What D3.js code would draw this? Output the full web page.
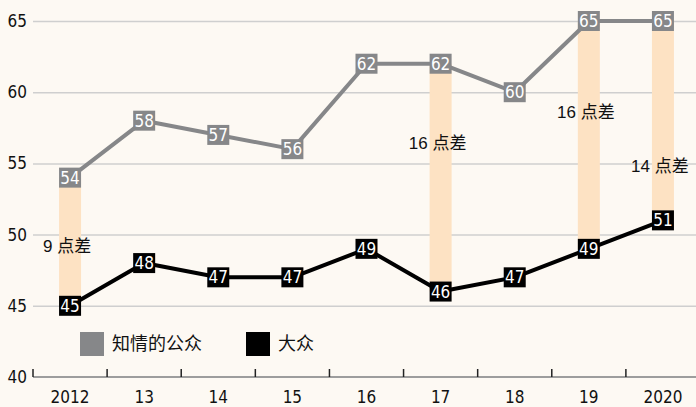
<!DOCTYPE html>
<html>
<head>
<meta charset="utf-8">
<script src="https://cdn.jsdelivr.net/npm/d3@7"></script>
<style>
  body { margin: 0; background: #fdf9f3; }
  svg { display: block; }
  .cond { font-family: "Liberation Sans Narrow", "DejaVu Sans Condensed", "Noto Sans CJK SC", sans-serif; }
  .cjk { font-family: "Liberation Sans", "Noto Sans CJK SC", sans-serif; }
</style>
</head>
<body>
<script>
const years = ['2012', '13', '14', '15', '16', '17', '18', '19', '2020'];
const informed = [54, 58, 57, 56, 62, 62, 60, 65, 65];
const general = [45, 48, 47, 47, 49, 46, 47, 49, 51];
const yTicks = [40, 45, 50, 55, 60, 65];

// gap callouts: which year, the text, and the value the text sits at
const gapYears = ['2012', '17', '19', '2020'];
const gapText = ['9 点差', '16 点差', '16 点差', '14 点差'];
const gapLabelAt = [49.2, 56.4, 58.6, 54.8];

const seriesNames = ['知情的公众', '大众'];
const seriesColors = ['#868789', '#000000'];

const width = 696;
const height = 407;
const margin = { top: 21, bottom: 30, left: 33, right: -4 };

const svg = d3.select('body').append('svg')
    .attr('width', width)
    .attr('height', height);

svg.append('rect')
    .attr('width', width)
    .attr('height', height)
    .attr('fill', '#fdf9f3');

const xscale = d3.scaleBand()
    .domain(years)
    .range([margin.left, width - margin.right]);

const yscale = d3.scaleLinear()
    .domain([40, 65])
    .range([height - margin.bottom, margin.top]);

const cx = (y) => xscale(y) + xscale.bandwidth() / 2;

// gridlines + y labels
const yaxis = d3.axisLeft(yscale)
    .tickValues(yTicks)
    .tickSize(-(width - margin.left))
    .tickPadding(6);

const g_yaxis = svg.append('g')
    .attr('class', 'y axis cond')
    .attr('transform', `translate(${margin.left},0)`)
    .call(yaxis);

g_yaxis.select('.domain').remove();
g_yaxis.selectAll('.tick line')
    .attr('stroke', (d) => d === 40 ? 'none' : '#cfcfcf')
    .attr('stroke-width', 1.5);
g_yaxis.selectAll('.tick text')
    .attr('fill', '#111')
    .attr('font-size', 17)
    .attr('font-family', null);

// x axis baseline with boundary ticks pointing up
const g_xaxis = svg.append('g').attr('class', 'x axis cond');

g_xaxis.append('line')
    .attr('x1', margin.left)
    .attr('x2', width)
    .attr('y1', yscale(40))
    .attr('y2', yscale(40))
    .attr('stroke', '#9d9d9d')
    .attr('stroke-width', 2);

g_xaxis.selectAll('.bound')
    .data(years)
    .join('line')
    .attr('class', 'bound')
    .attr('x1', (d) => xscale(d))
    .attr('x2', (d) => xscale(d))
    .attr('y1', yscale(40))
    .attr('y2', yscale(40) - 8)
    .attr('stroke', '#222')
    .attr('stroke-width', 1.5);

g_xaxis.selectAll('.xlabel')
    .data(years)
    .join('text')
    .attr('class', 'xlabel')
    .attr('x', (d) => cx(d))
    .attr('y', height - 4)
    .attr('text-anchor', 'middle')
    .attr('font-size', 17)
    .attr('fill', '#111')
    .text((d) => d);

// gap bars
const gaps = gapYears.map((y, i) => {
    const k = years.indexOf(y);
    return { year: y, top: informed[k], bottom: general[k], text: gapText[i], at: gapLabelAt[i] };
});

svg.selectAll('.gap')
    .data(gaps)
    .join('rect')
    .attr('class', 'gap')
    .attr('x', (d) => cx(d.year) - 11)
    .attr('width', 22)
    .attr('y', (d) => yscale(d.top))
    .attr('height', (d) => yscale(d.bottom) - yscale(d.top))
    .attr('fill', '#fde2c3');

svg.selectAll('.gaptext')
    .data(gaps)
    .join('text')
    .attr('class', 'gaptext cjk')
    .attr('x', (d) => cx(d.year) - 3)
    .attr('y', (d) => yscale(d.at))
    .attr('dy', '0.35em')
    .attr('text-anchor', 'middle')
    .attr('font-size', 17)
    .attr('fill', '#111')
    .text((d) => d.text);

// lines
const line = d3.line()
    .x((d, i) => cx(years[i]))
    .y((d) => yscale(d));

[informed, general].forEach((series, s) => {
    svg.append('path')
        .datum(series)
        .attr('fill', 'none')
        .attr('stroke', seriesColors[s])
        .attr('stroke-width', 4)
        .attr('stroke-linejoin', 'round')
        .attr('d', line);
});

// value boxes
[informed, general].forEach((series, s) => {
    const box = svg.append('g').selectAll('g')
        .data(series)
        .join('g')
        .attr('transform', (d, i) => `translate(${cx(years[i])},${yscale(d)})`);
    box.append('rect')
        .attr('x', -11)
        .attr('y', -10)
        .attr('width', 22)
        .attr('height', 20)
        .attr('fill', seriesColors[s]);
    box.append('text')
        .attr('class', 'cond')
        .attr('text-anchor', 'middle')
        .attr('dy', '0.36em')
        .attr('font-size', 17)
        .attr('fill', '#fff')
        .text((d) => d);
});

// legend
const legendX = [80, 246];
const legend = svg.append('g').selectAll('g')
    .data(seriesNames)
    .join('g')
    .attr('transform', (d, i) => `translate(${legendX[i]},332)`);

legend.append('rect')
    .attr('width', 24)
    .attr('height', 24)
    .attr('fill', (d, i) => seriesColors[i]);

legend.append('text')
    .attr('class', 'cjk')
    .attr('x', 32)
    .attr('y', 12)
    .attr('dy', '0.36em')
    .attr('font-size', 18)
    .attr('fill', '#111')
    .text((d) => d);
</script>
</body>
</html>
